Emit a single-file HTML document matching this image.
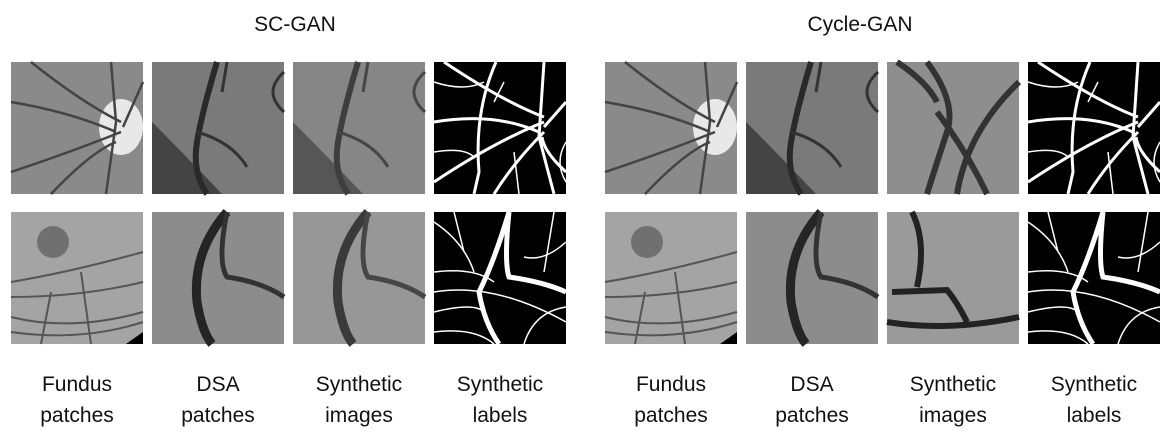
<!DOCTYPE html>
<html><head><style>
body{margin:0;background:#fff;width:1173px;height:436px;overflow:hidden}
svg{display:block}
text{font-family:"Liberation Sans",sans-serif;font-size:21px;fill:#111}
</style></head><body>
<svg width="1173" height="436" viewBox="0 0 1173 436">
<defs>
<g id="fund1"><rect width="132" height="132" fill="#8a8a8a"/><ellipse cx="110" cy="65" rx="22" ry="28" fill="#e8e8e8"/>
<path d="M0 40 Q60 50 105 70 M20 0 Q70 40 110 60 M0 110 Q60 90 110 70 M40 132 Q80 90 105 80 M100 0 L105 60 L95 132 M132 20 L112 65" stroke="#444" stroke-width="2.5" fill="none"/></g>
<g id="fund2"><rect width="132" height="132" fill="#a4a4a4"/><circle cx="42" cy="30" r="16" fill="#5a5a5a" opacity=".7"/>
<path d="M0 70 Q60 60 132 40 M0 85 Q70 85 132 70 M0 105 Q60 120 132 100 M0 120 Q70 130 132 110 M40 80 L30 132 M70 60 L80 132" stroke="#555" stroke-width="2" fill="none"/><path d="M115 132 L132 120 L132 132Z" fill="#000"/></g>
<g id="dsa1"><rect width="132" height="132" fill="#7a7a7a"/><path d="M0 60 Q30 90 70 132 L0 132Z" fill="#444"/>
<path d="M65 0 Q50 50 45 80 Q40 110 55 132" stroke="#2a2a2a" stroke-width="6" fill="none"/><path d="M75 0 L70 30 M45 70 Q80 80 95 105 M132 10 Q110 30 132 50" stroke="#333" stroke-width="3" fill="none"/></g>
<g id="dsa2"><rect width="132" height="132" fill="#8c8c8c"/>
<path d="M75 0 Q40 40 45 90 Q50 120 60 132" stroke="#252525" stroke-width="9" fill="none"/><path d="M75 0 Q65 50 75 65 Q110 70 132 85" stroke="#333" stroke-width="5" fill="none"/></g>
<g id="lab1"><rect width="132" height="132" fill="#000"/>
<path d="M62 0 Q40 50 45 110 L40 132 M0 120 Q60 80 110 60 M10 0 Q70 40 110 55 M0 60 Q60 50 105 70 M110 0 L105 75 L120 132 M132 40 L110 65 M60 132 Q80 100 110 70 M132 110 Q110 90 108 75" stroke="#fff" stroke-width="3" fill="none"/>
<path d="M0 20 Q30 30 50 20 M0 90 Q30 85 40 95 M70 20 L60 40 M80 90 L85 132 M132 80 Q120 100 132 120" stroke="#fff" stroke-width="1.5" fill="none"/></g>
<g id="lab2"><rect width="132" height="132" fill="#000"/>
<path d="M75 0 Q60 50 45 80 Q50 110 65 132 M75 0 Q70 50 75 65 Q110 70 132 80" stroke="#fff" stroke-width="5" fill="none"/>
<path d="M0 10 Q30 30 40 60 M0 60 Q40 55 60 70 M0 100 Q40 90 50 100 M0 120 Q40 115 60 132 M90 132 Q100 100 132 95 M132 30 Q110 50 90 45 M20 0 L30 40 M120 0 L110 60 M0 80 Q60 70 132 110" stroke="#fff" stroke-width="1.5" fill="none"/></g>
<g id="cyc1"><rect width="132" height="132" fill="#8e8e8e"/><path d="M40 0 Q70 40 60 70 Q50 100 40 132 M132 20 Q80 70 70 132 M50 50 Q80 90 100 132 M10 0 Q40 20 50 40" stroke="#333" stroke-width="6" fill="none"/></g>
<g id="cyc2"><rect width="132" height="132" fill="#9a9a9a"/><path d="M5 80 L60 78 Q70 90 80 110 M0 110 Q60 120 132 105 M25 0 Q40 30 30 75" stroke="#222" stroke-width="6" fill="none"/></g>
</defs>
<text x="295" y="31" text-anchor="middle">SC-GAN</text>
<text x="860" y="31" text-anchor="middle">Cycle-GAN</text>
<use href="#fund1" x="11" y="62"/><use href="#dsa1" x="152" y="62"/><use href="#dsa1" x="293" y="62" opacity=".9"/><use href="#lab1" x="434" y="62"/>
<use href="#fund2" x="11" y="212"/><use href="#dsa2" x="152" y="212"/><use href="#dsa2" x="293" y="212" opacity=".9"/><use href="#lab2" x="434" y="212"/>
<use href="#fund1" x="605" y="62"/><use href="#dsa1" x="746" y="62"/><use href="#cyc1" x="887" y="62"/><use href="#lab1" x="1028" y="62"/>
<use href="#fund2" x="605" y="212"/><use href="#dsa2" x="746" y="212"/><use href="#cyc2" x="887" y="212"/><use href="#lab2" x="1028" y="212"/>
<g text-anchor="middle">
<text x="77" y="391">Fundus</text><text x="77" y="422">patches</text>
<text x="218" y="391">DSA</text><text x="218" y="422">patches</text>
<text x="359" y="391">Synthetic</text><text x="359" y="422">images</text>
<text x="500" y="391">Synthetic</text><text x="500" y="422">labels</text>
<text x="671" y="391">Fundus</text><text x="671" y="422">patches</text>
<text x="812" y="391">DSA</text><text x="812" y="422">patches</text>
<text x="953" y="391">Synthetic</text><text x="953" y="422">images</text>
<text x="1094" y="391">Synthetic</text><text x="1094" y="422">labels</text>
</g>
</svg>
</body></html>
